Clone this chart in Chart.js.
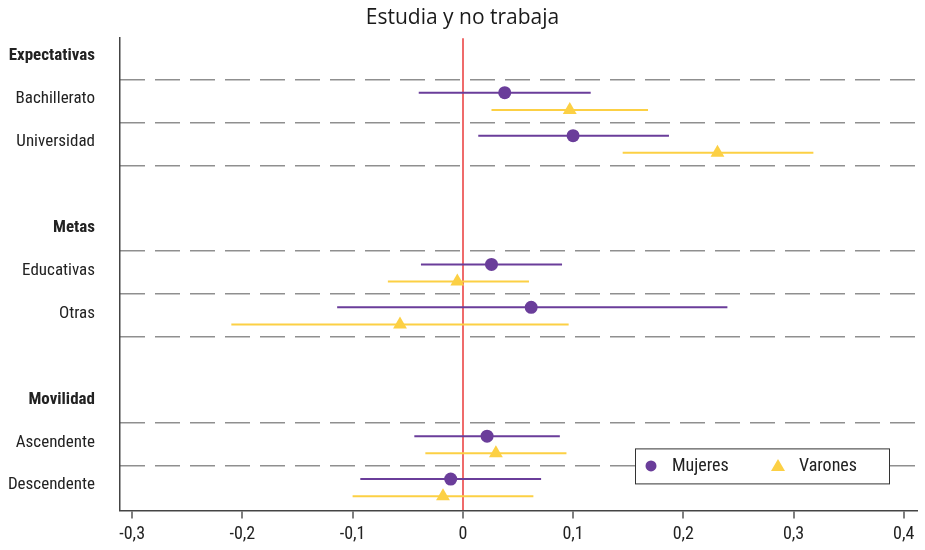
<!DOCTYPE html>
<html>
<head>
<meta charset="utf-8">
<script src="https://cdn.jsdelivr.net/npm/chart.js@4/dist/chart.umd.min.js"></script>
<style>
  html, body { margin: 0; padding: 0; background: #fff; }
  #wrap { width: 925px; height: 550px; }
</style>
</head>
<body>
<div id="wrap"><canvas id="coef"></canvas></div>
<script>
//! Data

const rowLabels = ["Expectativas", "Bachillerato", "Universidad", "", "Metas", "Educativas", "Otras", "", "Movilidad", "Ascendente", "Descendente"];
const headerLabels = ["Expectativas", "Metas", "Movilidad"];
const items = ["Bachillerato", "Universidad", "Educativas", "Otras", "Ascendente", "Descendente"];

const mujeresEst = [0.038, 0.100, 0.026, 0.062, 0.022, -0.011];
const mujeresLo = [-0.040, 0.014, -0.038, -0.114, -0.044, -0.093];
const mujeresHi = [0.116, 0.187, 0.090, 0.240, 0.088, 0.071];

const varonesEst = [0.097, 0.231, -0.005, -0.057, 0.030, -0.018];
const varonesLo = [0.026, 0.145, -0.068, -0.210, -0.034, -0.100];
const varonesHi = [0.168, 0.318, 0.060, 0.096, 0.094, 0.064];

const xTicks = [-0.3, -0.2, -0.1, 0, 0.1, 0.2, 0.3, 0.4];

//! Styles

const FONT = "'Roboto Condensed', 'DejaVu Sans Condensed', sans-serif";
const PURPLE = "#6a3d9a";
const YELLOW = "#fcd044";
const RED = "#ef6b6b";

const rowOf = (name) => rowLabels.indexOf(name);
// dashed separators around every item row
const sepLines = [];
items.forEach((name) => {
  const r = rowOf(name);
  [r - 0.5, r + 0.5].forEach((v) => {
    if (v < rowLabels.length - 1 && !sepLines.includes(v)) sepLines.push(v);
  });
});

const series = [
  { label: "Mujeres", est: mujeresEst, lo: mujeresLo, hi: mujeresHi, color: PURPLE, shift: -0.19, style: "circle", radius: 6.5 },
  { label: "Varones", est: varonesEst, lo: varonesLo, hi: varonesHi, color: YELLOW, shift: 0.21, style: "triangle", radius: 8 },
];

//! Plugins

const ciPlugin = {
  id: "ci",
  beforeDatasetsDraw(chart) {
    const { ctx, scales, chartArea } = chart;
    ctx.save();
    ctx.beginPath();
    ctx.rect(chartArea.left, chartArea.top, chartArea.width, chartArea.height);
    ctx.clip();
    ctx.lineWidth = 2;
    series.forEach((s) => {
      ctx.strokeStyle = s.color;
      items.forEach((name, i) => {
        const y = scales.y.getPixelForValue(rowOf(name) + s.shift);
        ctx.beginPath();
        ctx.moveTo(scales.x.getPixelForValue(s.lo[i]), y);
        ctx.lineTo(scales.x.getPixelForValue(s.hi[i]), y);
        ctx.stroke();
      });
    });
    ctx.restore();
  },
};

const legendBox = {
  id: "legendBox",
  afterDraw(chart) {
    const { ctx, chartArea } = chart;
    const w = 254, h = 35;
    const x0 = chartArea.right - 28 - w;
    const y0 = chartArea.bottom - 27 - h;
    ctx.save();
    ctx.fillStyle = "#fff";
    ctx.fillRect(x0, y0, w, h);
    ctx.strokeStyle = "#333";
    ctx.lineWidth = 1;
    ctx.strokeRect(x0 + 0.5, y0 + 0.5, w, h);
    const cy = y0 + h / 2;
    ctx.font = "18px " + FONT;
    ctx.textBaseline = "middle";
    const slots = [16, 143];
    series.forEach((s, i) => {
      const mx = x0 + slots[i];
      ctx.fillStyle = s.color;
      ctx.beginPath();
      if (s.style === "circle") {
        ctx.arc(mx, cy, 5.5, 0, Math.PI * 2);
      } else {
        ctx.moveTo(mx, cy - 7);
        ctx.lineTo(mx + 7, cy + 5);
        ctx.lineTo(mx - 7, cy + 5);
        ctx.closePath();
      }
      ctx.fill();
      ctx.fillStyle = "#222";
      ctx.fillText(s.label, mx + 21, cy + 1);
    });
    ctx.restore();
  },
};

//! Chart

const yMin = -0.46, yMax = 10.54;

new Chart(document.getElementById("coef"), {
  type: "scatter",
  data: {
    datasets: series.map((s) => ({
      label: s.label,
      data: items.map((name, i) => ({ x: s.est[i], y: rowOf(name) + s.shift })),
      pointStyle: s.style,
      pointRadius: s.radius,
      pointHoverRadius: s.radius,
      backgroundColor: s.color,
      borderColor: s.color,
      borderWidth: 0,
    })),
  },
  options: {
    responsive: true,
    maintainAspectRatio: false,
    animation: false,
    layout: { padding: { left: 0, right: 0, top: 0, bottom: 0 } },
    plugins: {
      legend: { display: false },
      tooltip: { enabled: false },
      title: {
        display: true,
        text: "Estudia y no trabaja",
        color: "#1a1a1a",
        font: { family: "'Open Sans', sans-serif", size: 21, weight: 500 },
        padding: { top: 5, bottom: 8 },
      },
    },
    scales: {
      x: {
        type: "linear",
        min: -0.311,
        max: 0.412,
        afterBuildTicks: (axis) => {
          axis.ticks = xTicks.map((v) => ({ value: v }));
        },
        afterFit: (scale) => {
          scale.paddingLeft = 0;
          scale.paddingRight = 0;
        },
        ticks: {
          color: "#222",
          padding: 5,
          font: { family: FONT, size: 18 },
          callback: (v) => (v === 0 ? "0" : v.toFixed(1).replace(".", ",")),
        },
        grid: {
          color: (c) => (c.tick && c.tick.value === 0 ? RED : "transparent"),
          lineWidth: 2,
          tickColor: "#555",
          tickWidth: 1.5,
          tickLength: 8,
        },
        border: { color: "#444", width: 1.5 },
      },
      yg: {
        type: "linear",
        position: "left",
        reverse: true,
        min: yMin,
        max: yMax,
        afterBuildTicks: (axis) => {
          axis.ticks = sepLines.map((v) => ({ value: v }));
        },
        afterFit: (scale) => {
          scale.width = 0;
        },
        ticks: { display: false },
        grid: { color: "#8f8f8f", lineWidth: 1.5, drawTicks: false },
        border: { display: false, dash: [25, 10] },
      },
      y: {
        type: "linear",
        position: "left",
        reverse: true,
        min: yMin,
        max: yMax,
        afterBuildTicks: (axis) => {
          axis.ticks = rowLabels.map((_, i) => ({ value: i }));
        },
        afterFit: (scale) => {
          scale.width = 120;
        },
        ticks: {
          autoSkip: false,
          color: "#222",
          padding: 25,
          labelOffset: -2,
          font: (c) => ({
            family: FONT,
            size: 17,
            weight: c.tick && headerLabels.includes(rowLabels[c.tick.value]) ? "bold" : "normal",
          }),
          callback: (v) => rowLabels[v],
        },
        grid: { display: false, drawTicks: false },
        border: { color: "#444", width: 1.5 },
      },
    },
  },
  plugins: [ciPlugin, legendBox],
});
</script>
</body>
</html>
